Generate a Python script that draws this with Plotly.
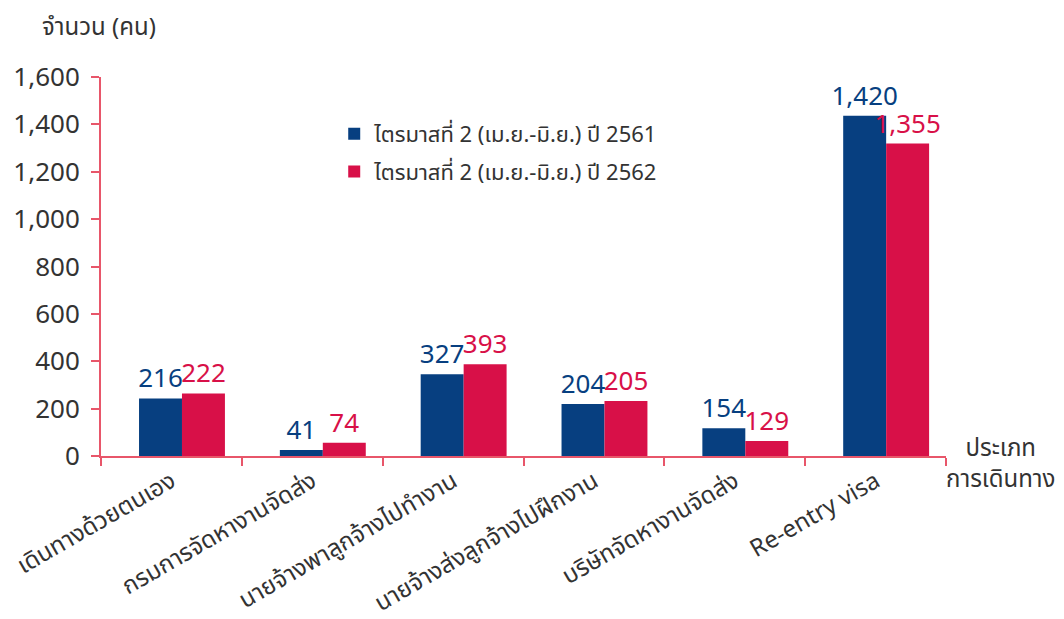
import plotly.graph_objects as go

categories = ['เดินทางด้วยตนเอง', 'กรมการจัดหางานจัดส่ง', 'นายจ้างพาลูกจ้างไปทำงาน',
              'นายจ้างส่งลูกจ้างไปฝึกงาน', 'บริษัทจัดหางานจัดส่ง', 'Re-entry visa']
series_names = ['ไตรมาสที่ 2 (เม.ย.-มิ.ย.) ปี 2561', 'ไตรมาสที่ 2 (เม.ย.-มิ.ย.) ปี 2562']

# numbers printed above the bars
labels_2561 = [216, 41, 327, 204, 154, 1420]
labels_2562 = [222, 74, 393, 205, 129, 1355]

# bar heights as drawn in the original (they don't quite match the printed numbers)
heights_2561 = [243, 25, 345, 219, 117, 1436]
heights_2562 = [264, 56, 387, 232, 63, 1319]

y_ticks = [0, 200, 400, 600, 800, 1000, 1200, 1400, 1600]

BLUE = '#073f80'
RED = '#d81048'
AXIS = '#e8566a'
FONT = '"Noto Sans", "Noto Sans Thai", Tahoma, sans-serif'

fig = go.Figure()

for name, heights, labels, color, off, grp in [
    (series_names[0], heights_2561, labels_2561, BLUE, -0.23, 'a'),
    (series_names[1], heights_2562, labels_2562, RED, 0.075, 'b'),
]:
    fig.add_trace(go.Bar(
        x=categories, y=heights, name=name, legendgroup=grp,
        marker=dict(color=color, line=dict(width=0)),
        width=0.305, offset=off,
        text=[f'{v:,}' for v in labels], textposition='outside',
        textfont=dict(color=color, size=26, family=FONT),
        constraintext='none', cliponaxis=False,
    ))

# the page body adds an 8px margin, so the figure is a bit smaller than the window
fig.update_layout(
    width=1056, height=611,
    barmode='overlay',
    plot_bgcolor='white', paper_bgcolor='white',
    margin=dict(l=93, r=118, t=69, b=163),
    font=dict(family=FONT, color='#333333'),
    showlegend=True,
    legend=dict(x=0.276, y=0.905, xanchor='left', yanchor='top',
                font=dict(size=22, color='#333333'),
                traceorder='grouped', tracegroupgap=6,
                bgcolor='rgba(0,0,0,0)'),
)

fig.update_xaxes(
    showline=True, linecolor=AXIS, linewidth=2,
    ticks='outside', tickson='boundaries', tickcolor=AXIS, ticklen=8, tickwidth=2,
    tickangle=-30, tickfont=dict(size=24, color='#333333'),
    showgrid=False, range=[-0.5, 5.5], automargin=False,
)
fig.update_yaxes(
    range=[0, 1600], tickvals=y_ticks, tickformat=',',
    showline=True, linecolor=AXIS, linewidth=2,
    ticks='outside', tickcolor=AXIS, ticklen=8, tickwidth=2,
    tickfont=dict(size=26, color='#333333'), ticklabelstandoff=6,
    showgrid=False, zeroline=False, automargin=False,
)

fig.add_annotation(text='จำนวน (คน)', xref='paper', yref='paper', x=-0.072, y=1.135,
                   xanchor='left', yanchor='middle', showarrow=False,
                   font=dict(size=24, color='#333333'))
fig.add_annotation(text='ประเภท<br>การเดินทาง', xref='paper', yref='paper', x=1.064, y=0.075,
                   xanchor='center', yanchor='top', showarrow=False, align='center',
                   font=dict(size=24, color='#333333'))

fig.write_html('out.html')
